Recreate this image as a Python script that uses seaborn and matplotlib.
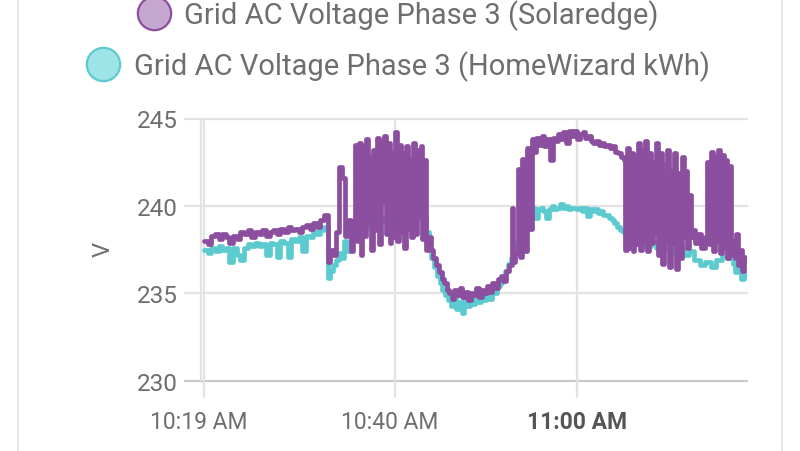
import pandas as pd
import matplotlib.pyplot as plt
import matplotlib.transforms as mtransforms
from matplotlib.lines import Line2D
import seaborn as sns

# minutes after 10:19 and voltage
solaredge_min = [
    0.0, 0.4, 0.8, 1.2, 1.6, 2.0, 2.4, 2.8, 3.2, 3.6, 4.0, 4.4, 4.8, 5.2, 5.6, 6.0, 6.4,
    6.8, 7.2, 7.6, 8.0, 8.4, 8.8, 9.2, 9.6, 10.0, 10.4, 10.8, 11.2, 11.6, 12.0, 12.4, 12.8, 13.2,
    13.6, 13.9, 14.2, 14.5, 14.8, 15.2, 15.5, 15.8, 16.1, 16.4,
    16.6, 16.8, 17.0, 17.2, 17.4, 17.6, 17.8, 18.0, 18.2, 18.4, 18.6, 18.8, 19.0, 19.2,
    19.4, 19.6, 19.8, 20.0, 20.2, 20.4, 20.6, 20.8, 21.0, 21.2, 21.4, 21.6, 21.8, 22.0,
    22.2, 22.4, 22.6, 22.8, 23.0, 23.2, 23.4, 23.6, 23.8, 24.0, 24.2, 24.4,
    24.6, 24.9, 25.2, 25.5, 25.8, 26.1, 26.4, 26.7,
    26.9, 27.2, 27.5, 27.8, 28.1, 28.4, 28.7, 29.0, 29.3, 29.6, 29.9, 30.2, 30.5, 30.8,
    31.1, 31.4, 31.7, 32.0, 32.3,
    32.6, 32.9, 33.2, 33.5, 33.8, 34.0, 34.2, 34.5, 34.7, 35.0, 35.2, 35.5, 35.7, 36.0, 36.2,
    36.5, 36.8, 37.1, 37.4, 37.7, 38.0, 38.3, 38.6, 38.9, 39.2, 39.5, 39.8, 40.1, 40.4,
    40.7, 41.0, 41.3, 41.6, 41.9, 42.2, 42.5, 42.8, 43.1, 43.4, 43.7, 44.0, 44.3, 44.6,
    44.9, 45.2, 45.5, 45.8, 46.1,
    46.3, 46.5, 46.7, 46.9, 47.1, 47.3, 47.5, 47.7, 47.9, 48.1, 48.3, 48.5, 48.7, 48.9,
    49.1, 49.3, 49.5, 49.7, 49.9, 50.1, 50.3, 50.5, 50.7, 50.9, 51.1, 51.3, 51.5, 51.7,
    51.9, 52.1, 52.3, 52.5, 52.7, 52.9, 53.1, 53.3,
    53.5, 53.7, 54.0, 54.3, 54.6,
    55.0, 55.3, 55.5, 55.7, 55.9, 56.1, 56.3, 56.5, 56.7, 56.9, 57.1, 57.3, 57.5, 57.7, 57.9,
    58.1, 58.3, 58.5, 58.7, 58.9, 59.1, 59.3, 59.5, 59.7,
]
solaredge_v = [
    238.0, 237.8, 238.3, 238.4, 238.1, 238.4, 238.2, 237.9, 238.3, 238.1, 238.5, 238.4, 238.6,
    238.2, 238.5, 238.4, 238.6, 238.3, 238.5, 238.6, 238.4, 238.7, 238.5, 238.8, 238.6, 238.7,
    238.5, 238.8, 238.9, 238.7, 239.0, 238.8, 239.2, 239.5,
    236.8, 237.5, 237.2, 238.5, 242.2, 241.6, 238.3, 239.2, 237.4, 238.6,
    243.5, 238.0, 243.6, 237.2, 243.4, 238.3, 243.8, 239.0, 242.8, 237.5, 243.2, 238.6,
    243.9, 237.8, 243.7, 240.2, 244.0, 238.4, 243.6, 237.9, 243.1, 238.2, 244.2, 238.0,
    243.5, 238.5, 243.0, 237.6, 243.4, 238.7, 242.7, 238.2, 243.6, 238.4, 243.2, 239.5,
    243.4, 238.1, 242.6, 237.5,
    238.2, 237.5, 237.0, 236.6, 236.2, 235.8, 235.6, 235.2,
    235.0, 234.7, 235.2, 234.9, 235.3, 234.8, 235.1, 234.6, 235.0, 234.9, 235.3, 234.8,
    235.2, 235.0, 235.4, 235.1, 235.6, 235.3, 235.8,
    236.0, 235.7, 236.3, 236.6, 239.9, 236.8, 237.3, 242.1, 237.1, 242.7, 237.4, 243.3,
    238.7, 243.8, 243.1,
    243.9, 243.5, 244.0, 243.4, 243.8, 242.6, 243.9, 243.7, 244.1, 243.8, 244.2, 243.6,
    244.3, 244.0, 244.3, 243.8, 244.1, 244.2, 243.9, 244.0, 243.7, 243.6, 243.7, 243.5,
    243.6, 243.4, 243.5, 243.3, 243.4, 243.1, 243.0, 242.8, 242.6,
    237.5, 243.3, 237.6, 243.0, 237.4, 242.9, 237.8, 243.6, 237.5, 243.2, 238.0, 243.7,
    237.4, 243.0, 237.9, 242.5, 238.4, 243.6, 237.2, 243.0, 236.7, 242.4, 238.0, 243.2,
    236.5, 242.0, 237.8, 243.0, 236.4, 241.9, 237.0, 242.8, 238.2, 242.0, 237.6, 240.6,
    238.2, 238.6, 237.9, 238.4, 237.6,
    238.2, 242.5, 237.8, 243.1, 237.4, 242.8, 238.0, 243.2, 237.3, 242.9, 237.6, 242.6,
    237.0, 242.3, 237.2,
    238.0, 237.0, 238.4, 236.6, 237.5, 236.3, 237.1, 236.9, 236.9,
]

homewizard_min = [
    0.0, 0.4, 0.8, 1.2, 1.6, 2.0, 2.4, 2.8, 3.2, 3.6, 4.0, 4.4, 4.8, 5.2, 5.6, 6.0, 6.4,
    6.8, 7.2, 7.6, 8.0, 8.4, 8.8, 9.2, 9.6, 10.0, 10.4, 10.8, 11.2, 11.6, 12.0, 12.4, 12.8, 13.2,
    13.6, 13.9, 14.2, 14.5, 14.8, 15.1, 15.4, 15.7, 16.0, 16.3,
    16.6, 17.2, 17.8, 18.4, 19.0, 19.6, 20.2, 20.8, 21.4, 22.0, 22.6, 23.2, 23.8, 24.4,
    24.7, 25.0, 25.3, 25.6, 25.9, 26.2, 26.5,
    26.8, 27.1, 27.4, 27.7, 28.0, 28.3, 28.6, 28.9, 29.2, 29.5, 29.8, 30.1, 30.4, 30.7,
    31.0, 31.3, 31.6, 31.9, 32.2,
    32.5, 32.8, 33.1, 33.4, 33.7, 34.0, 34.3, 34.6, 34.9, 35.2,
    35.5, 35.8, 36.1, 36.4, 36.7, 37.0, 37.3, 37.6, 37.9, 38.2, 38.5, 38.8, 39.1, 39.4,
    39.7, 40.0, 40.3, 40.6, 40.9, 41.2, 41.5, 41.8, 42.1, 42.4, 42.7, 43.0, 43.3, 43.6,
    43.9, 44.2, 44.5, 44.8, 45.1, 45.4, 45.7, 46.0, 46.3,
    46.7, 47.3, 47.9, 48.5, 49.1, 49.7, 50.3, 50.9, 51.5, 52.1, 52.7, 53.3, 53.9, 54.5,
    55.1, 55.7, 56.3, 56.9, 57.5, 58.1, 58.4, 58.7, 59.0, 59.3, 59.7,
]
homewizard_v = [
    237.5, 237.3, 237.6, 237.4, 237.7, 237.5, 237.6, 236.8, 237.6, 237.2, 236.9, 237.6, 237.8,
    237.7, 237.9, 237.7, 237.8, 237.2, 237.9, 237.8, 237.1, 238.0, 237.9, 237.1, 238.1, 238.0,
    238.2, 237.4, 238.3, 238.2, 238.5, 238.4, 238.6, 238.8,
    235.9, 236.3, 236.6, 236.9, 237.3, 237.0, 238.0, 237.4, 237.6, 238.2,
    238.4, 238.6, 238.9, 238.7, 239.1, 239.3, 239.0, 239.6, 239.2, 239.4, 239.1, 239.5,
    239.3, 238.5,
    237.6, 237.0, 236.5, 236.0, 235.6, 235.2, 234.9,
    234.6, 234.3, 234.8, 234.1, 234.5, 233.9, 234.6, 234.3, 234.7, 234.4, 234.8, 234.5,
    234.9, 234.6, 235.0, 234.7, 235.2, 235.0, 235.4,
    235.6, 235.9, 236.3, 236.7, 237.0, 237.4, 237.9, 238.5, 238.7, 238.9,
    239.9, 239.7, 239.9, 239.3, 239.8, 239.9, 239.7, 239.3, 239.8, 240.0, 239.8, 239.9,
    240.1, 239.9, 240.0, 239.8, 239.9, 239.9, 239.8, 239.9, 239.7, 239.9, 239.4, 239.8,
    239.7, 239.8, 239.6, 239.7, 239.5, 239.5, 239.3, 239.2, 239.0, 238.8, 238.6, 238.5, 238.2,
    238.0, 237.8, 237.9, 237.7, 238.0, 237.6, 237.9, 237.5, 237.3, 237.6, 237.2, 237.4,
    236.9, 236.6, 236.8, 236.5, 236.9, 237.2, 237.0, 236.7, 236.2, 236.5, 235.8, 236.2, 236.1,
]

labels = ['Grid AC Voltage Phase 3 (Solaredge)', 'Grid AC Voltage Phase 3 (HomeWizard kWh)']
tick_times = ['10:19', '10:40', '11:00']
tick_labels = ['10:19 AM', '10:40 AM', '11:00 AM']
y_ticks = [230, 235, 240, 245]

purple = '#8c4e9e'
purple_fill = '#c6a7d0'
cyan = '#5ccbcf'
cyan_fill = '#9ee3e5'
grid_c = '#e3e3e3'
text_c = '#6e6e6e'

start = pd.Timestamp('2024-05-01 10:19')
df_se = pd.DataFrame({'time': start + pd.to_timedelta(solaredge_min, unit='min'), 'V': solaredge_v})
df_hw = pd.DataFrame({'time': start + pd.to_timedelta(homewizard_min, unit='min'), 'V': homewizard_v})

sns.set_style('white')
plt.rcParams['font.family'] = ['Roboto', 'DejaVu Sans']

fig = plt.figure(figsize=(8, 4.52), dpi=100)
ax = fig.add_axes([185 / 800, 70.3 / 452, 562 / 800, 262.2 / 452])

sns.lineplot(data=df_hw, x='time', y='V', drawstyle='steps-post', estimator=None,
             color=cyan, lw=3.4, ax=ax, zorder=3)
sns.lineplot(data=df_se, x='time', y='V', drawstyle='steps-post', estimator=None,
             color=purple, lw=3.4, ax=ax, zorder=4)

# x range: a bit of padding on the left of 10:19
px_per_min = 9.1
x0 = start - pd.Timedelta(minutes=19 / px_per_min)
x1 = start + pd.Timedelta(minutes=543 / px_per_min)
ax.set_xlim(x0, x1)
ax.set_ylim(230, 245)

for s in ax.spines.values():
    s.set_visible(False)

# horizontal grid
for v in y_ticks:
    ax.axhline(v, color='#c9c9c9' if v == 230 else grid_c, lw=1.6, zorder=1, clip_on=False)

# vertical grid, running a bit below the axis
tick_pos = [pd.Timestamp('2024-05-01 ' + t) for t in tick_times]
below = -16.3 / 262.2
for t in tick_pos:
    ax.axvline(t, ymin=below, ymax=1, color=grid_c, lw=1.6, zorder=1, clip_on=False)
ax.axvline(start - pd.Timedelta(minutes=0.33), ymin=0, ymax=1, color=grid_c, lw=1.6, zorder=1)

ax.set_xticks(tick_pos)
ax.set_xticklabels(tick_labels)
ax.set_yticks(y_ticks)
ax.tick_params(axis='x', length=0, pad=21, labelsize=16.5, labelcolor=text_c)
ax.tick_params(axis='y', length=0, pad=5, labelsize=17.5, labelcolor=text_c)
xt = ax.get_xticklabels()
xt[2].set_fontweight('bold')
xt[2].set_color('#555555')
shift = mtransforms.ScaledTranslation(-5 / 100, 0, fig.dpi_scale_trans)
for lab in xt[:2]:
    lab.set_transform(lab.get_transform() + shift)
ax.set_xlabel('')
ax.set_ylabel('')
fig.text(103 / 800, 1 - 250 / 452, 'V', rotation=90, ha='center', va='center',
         fontsize=17, color=text_c)

# legend rows, each centred on its own
rows = [(labels[0], purple, purple_fill, 16), (labels[1], cyan, cyan_fill, 67)]
for lab, ec, fc, yy in rows:
    h = Line2D([], [], ls='', marker='o', ms=24, mfc=fc, mec=ec, mew=1.6)
    fig.legend([h], [lab], loc='center', bbox_to_anchor=(399 / 800, 1 - yy / 452),
               frameon=False, fontsize=21, labelcolor=text_c, handlelength=1.0,
               handletextpad=0.55, borderpad=0, borderaxespad=0)

# card edges
fig.add_artist(Line2D([18 / 800, 18 / 800], [0, 1], color='#e8e8e8', lw=1.5))
fig.add_artist(Line2D([782 / 800, 782 / 800], [0, 1], color='#e8e8e8', lw=1.5))

plt.savefig('out.png', dpi=100)
